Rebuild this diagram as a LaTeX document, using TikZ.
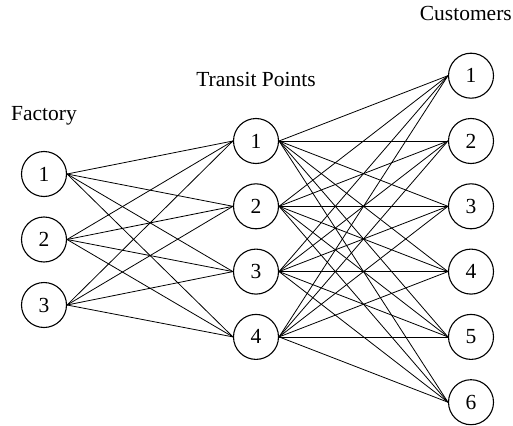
\documentclass[tikz,border=0pt]{standalone}
\usepackage{fontspec}
\setmainfont{Liberation Serif}
\begin{document}
\begin{tikzpicture}[x=1pt,y=-1pt,
  stop/.style={circle,draw,line width=1.1pt,minimum size=45pt,inner sep=0pt,font=\fontsize{21.5}{24}\selectfont},
  caption/.style={inner sep=0pt,font=\fontsize{21.5}{24}\selectfont},
  link/.style={line width=0.8pt}]
\useasboundingbox (0,0) rectangle (513,425);
% column titles
\node[caption,anchor=base] (tf) at (44,120) {Factory};
\node[caption,anchor=base] (tt) at (256,87) {Transit Points};
\node[caption,anchor=base east] (tc) at (512,21) {Customers};
% factories
\foreach \i/\y in {1/174,2/239.5,3/305}
  \node[stop] (f\i) at (44,\y) {\i};
% transit points
\foreach \i/\y in {1/141,2/206.3,3/271.6,4/336.9}
  \node[stop] (t\i) at (256,\y) {\i};
% customers
\foreach \i/\y in {1/75.7,2/141,3/206.3,4/271.6,5/336.9,6/402.2}
  \node[stop] (c\i) at (471,\y) {\i};
% factory to transit links
\foreach \i in {1,2,3}
  \foreach \j in {1,2,3,4}
    \draw[link] (f\i.east) -- (t\j.west);
% transit to customer links
\foreach \j in {1,2,3,4}
  \foreach \k in {1,2,3,4,5,6}
    \draw[link] (t\j.east) -- (c\k.west);
\end{tikzpicture}
\end{document}
